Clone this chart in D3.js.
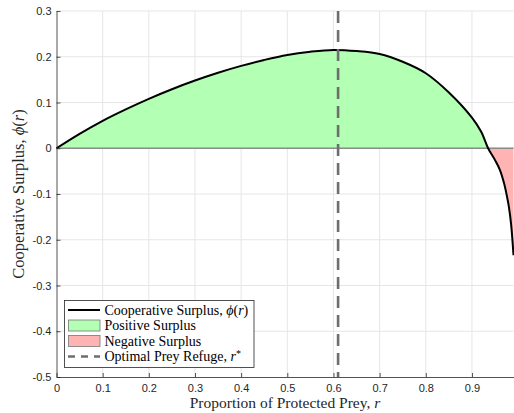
<!DOCTYPE html>
<html><head><meta charset="utf-8">
<script src="https://cdn.jsdelivr.net/npm/d3@7"></script>
<style>html,body{margin:0;padding:0;background:#fff;}svg{display:block;}</style>
</head><body>
<script>
const rValues   = [0, 0.05, 0.1, 0.15, 0.2, 0.25, 0.3, 0.35, 0.4, 0.45, 0.5, 0.55, 0.6, 0.65, 0.7, 0.75, 0.8, 0.85, 0.9, 0.92, 0.935, 0.95, 0.96, 0.97, 0.976, 0.98, 0.985, 0.99];
const phiValues = [0, 0.0315, 0.060, 0.085, 0.108, 0.129, 0.148, 0.165, 0.180, 0.193, 0.204, 0.211, 0.215, 0.2125, 0.206, 0.189, 0.164, 0.122, 0.067, 0.036, 0, -0.026, -0.046, -0.078, -0.106, -0.128, -0.168, -0.234];
const rOptimal = 0.61;
const xTicks = [0, 0.1, 0.2, 0.3, 0.4, 0.5, 0.6, 0.7, 0.8, 0.9];
const yTicks = [-0.5, -0.4, -0.3, -0.2, -0.1, 0, 0.1, 0.2, 0.3];
const legendLabels = ["Cooperative Surplus, ", "Positive Surplus", "Negative Surplus", "Optimal Prey Refuge, "];

const W = 514, H = 413;
const L = 56.5, R = 513.5, T = 11, B = 377;
const svg = d3.select("body").append("svg").attr("width", W).attr("height", H);
const x = d3.scaleLinear().domain([0, 0.99]).range([L, R]);
const y = d3.scaleLinear().domain([-0.5, 0.3]).range([B, T]);
const data = rValues.map((r, i) => ({r, v: phiValues[i]}));

// grid
const g = svg.append("g");
g.selectAll(".gx").data(xTicks.slice(1)).enter().append("line")
  .attr("x1", d => x(d)).attr("x2", d => x(d)).attr("y1", T).attr("y2", B)
  .attr("stroke", "#e6e6e6").attr("stroke-width", 1);
g.selectAll(".gy").data(yTicks.slice(1)).enter().append("line")
  .attr("x1", L).attr("x2", R).attr("y1", d => y(d)).attr("y2", d => y(d))
  .attr("stroke", "#e6e6e6").attr("stroke-width", 1);

// areas
const curve = d3.curveCatmullRom.alpha(0.5);
svg.append("path").datum(data)
  .attr("d", d3.area().curve(curve).x(d => x(d.r)).y0(y(0)).y1(d => y(Math.max(0, d.v))))
  .attr("fill", "#b3ffb3");
svg.append("path").datum(data)
  .attr("d", d3.area().curve(curve).x(d => x(d.r)).y0(y(0)).y1(d => y(Math.min(0, d.v))))
  .attr("fill", "#ffb3b3");

// zero line
svg.append("line").attr("x1", x(0)).attr("x2", x(0.99)).attr("y1", y(0)).attr("y2", y(0))
  .attr("stroke", "#8a8a8a").attr("stroke-width", 1.4);

// curve
svg.append("path").datum(data)
  .attr("d", d3.line().curve(curve).x(d => x(d.r)).y(d => y(d.v)))
  .attr("fill", "none").attr("stroke", "#000").attr("stroke-width", 2);

// optimal line
svg.append("line").attr("x1", x(rOptimal)).attr("x2", x(rOptimal)).attr("y1", T).attr("y2", B)
  .attr("stroke", "#6e6e6e").attr("stroke-width", 2.6).attr("stroke-dasharray", "12,7");

// axes
const axColor = "#262626";
const xAxis = svg.append("g").attr("transform", `translate(0,${B})`)
  .call(d3.axisBottom(x).tickValues(xTicks).tickSizeInner(-4).tickSizeOuter(0).tickPadding(7)
    .tickFormat(d => d === 0 ? "0" : d3.format(".1f")(d)));
const yAxis = svg.append("g").attr("transform", `translate(${L},0)`)
  .call(d3.axisLeft(y).tickValues(yTicks).tickSizeInner(-4).tickSizeOuter(0).tickPadding(5)
    .tickFormat(d => d === 0 ? "0" : d3.format(".1f")(d).replace("−", "-")));
[xAxis, yAxis].forEach(a => {
  a.select(".domain").attr("stroke", axColor).attr("stroke-width", 0.8);
  a.selectAll(".tick line").attr("stroke", axColor).attr("stroke-width", 0.8);
  a.selectAll(".tick text").attr("fill", axColor)
    .style("font-family", "'Liberation Sans', Arial, sans-serif").style("font-size", "11px");
});

// axis labels
const serif = "'Liberation Serif', 'Times New Roman', serif";
const xl = svg.append("text").attr("x", (L + R) / 2).attr("y", 408).attr("text-anchor", "middle")
  .style("font-family", serif).style("font-size", "15.5px").attr("fill", axColor);
xl.append("tspan").text("Proportion of Protected Prey, ");
xl.append("tspan").text("r").style("font-style", "italic");

const yl = svg.append("text").attr("transform", `translate(24,${(T + B) / 2}) rotate(-90)`)
  .attr("text-anchor", "middle").style("font-family", serif).style("font-size", "16.5px").attr("fill", axColor);
yl.append("tspan").text("Cooperative Surplus, ");
yl.append("tspan").text("ϕ").style("font-style", "italic");
yl.append("tspan").text("(");
yl.append("tspan").text("r").style("font-style", "italic");
yl.append("tspan").text(")");

// legend
const lg = svg.append("g");
lg.append("rect").attr("x", 64.5).attr("y", 300.5).attr("width", 189.5).attr("height", 67)
  .attr("fill", "#fff").attr("stroke", axColor).attr("stroke-width", 0.8);
const rowY = [310, 325.5, 341, 356.5];
lg.append("line").attr("x1", 68).attr("x2", 100).attr("y1", rowY[0]).attr("y2", rowY[0])
  .attr("stroke", "#000").attr("stroke-width", 2);
lg.append("rect").attr("x", 68.5).attr("y", rowY[1] - 5.5).attr("width", 31.5).attr("height", 11)
  .attr("fill", "#b3ffb3").attr("stroke", "#777").attr("stroke-width", 0.8);
lg.append("rect").attr("x", 68.5).attr("y", rowY[2] - 5.5).attr("width", 31.5).attr("height", 11)
  .attr("fill", "#ffb3b3").attr("stroke", "#777").attr("stroke-width", 0.8);
lg.append("line").attr("x1", 68).attr("x2", 100).attr("y1", rowY[3]).attr("y2", rowY[3])
  .attr("stroke", "#6e6e6e").attr("stroke-width", 2.6).attr("stroke-dasharray", "7,6");
rowY.forEach((yy, i) => {
  const t = lg.append("text").attr("x", 104.5).attr("y", yy + 4.5)
    .style("font-family", serif).style("font-size", "14px").attr("fill", "#000");
  t.append("tspan").text(legendLabels[i]);
  if (i === 0) {
    t.append("tspan").text("ϕ").style("font-style", "italic");
    t.append("tspan").text("(");
    t.append("tspan").text("r").style("font-style", "italic");
    t.append("tspan").text(")");
  }
  if (i === 3) {
    t.append("tspan").text("r").style("font-style", "italic");
    t.append("tspan").text("*").attr("dy", -4).style("font-size", "10px");
  }
});
</script>
</body></html>
